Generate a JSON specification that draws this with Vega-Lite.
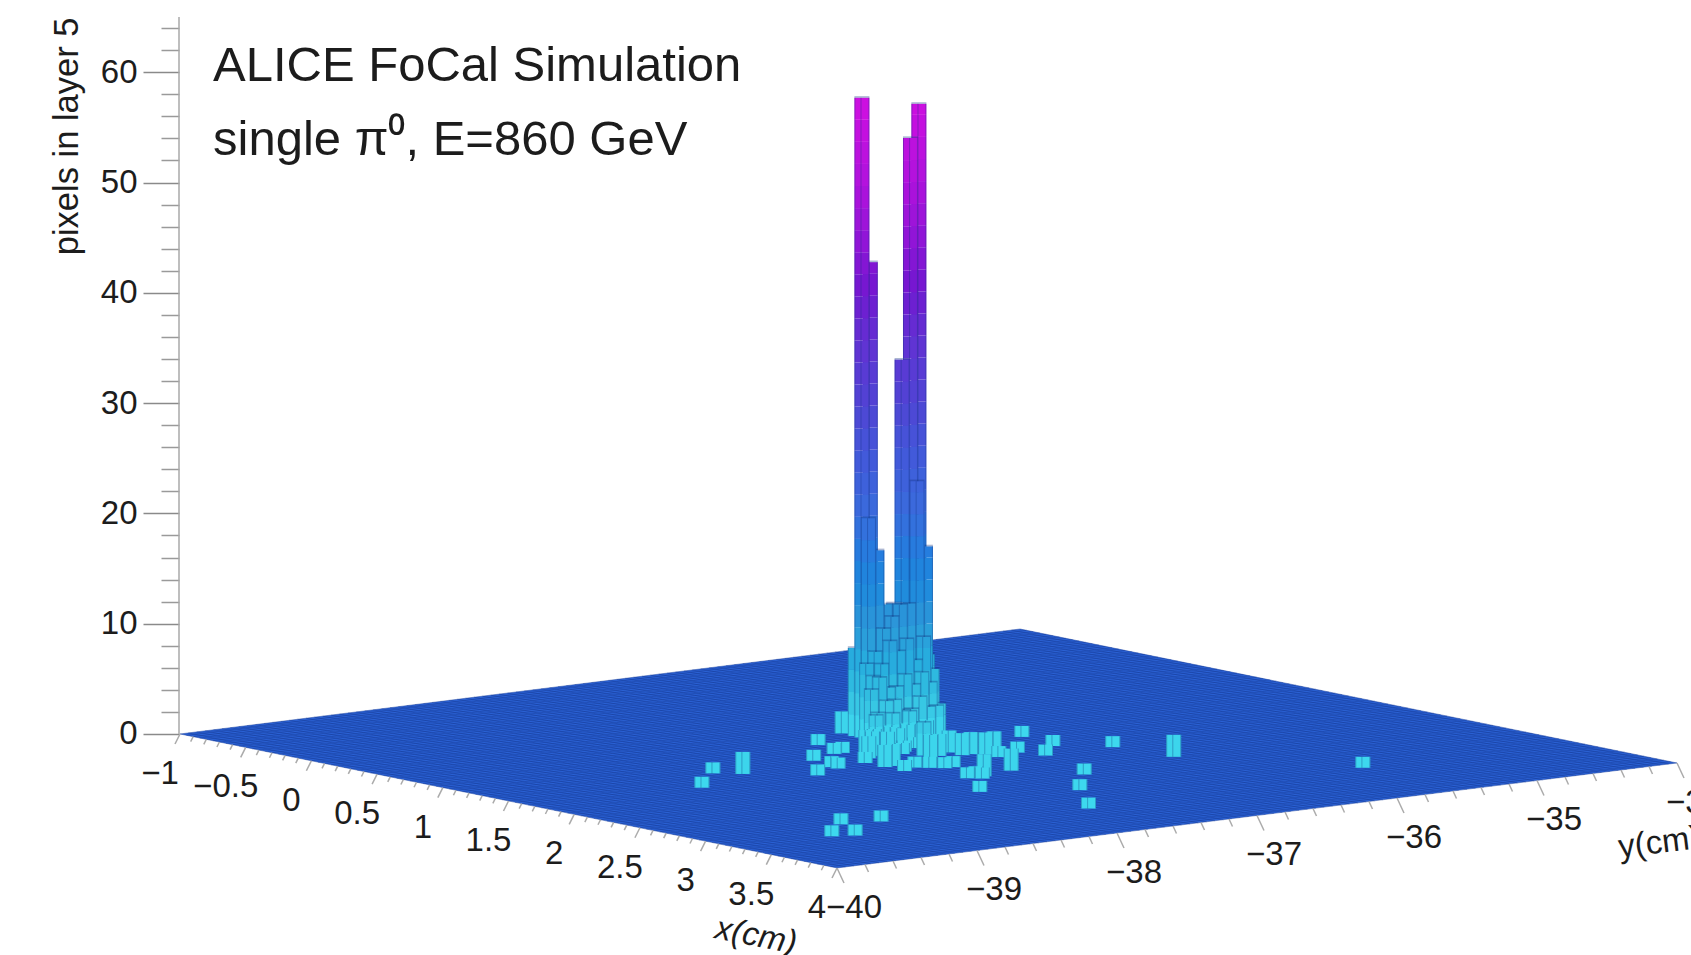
{"$schema":"https://vega.github.io/schema/vega-lite/v6.json","width":1512,"height":955,"autosize":"none","padding":{"left":179,"top":0,"right":0,"bottom":0},"background":"white","config":{"view":{"stroke":null},"text":{"font":"Liberation Sans","color":"#1c1c1c"}},
"datasets":{
"grid":[0,1,2,3,4,5,6,7,8,9,10,11,12,13,14,15,16,17,18,19,20,21,22,23,24,25,26,27,28,29,30,31,32,33,34,35,36,37,38,39,40,41,42,43,44,45,46,47,48,49,50,51,52,53,54,55,56,57,58,59,60,61,62,63,64,65,66,67,68,69,70,71,72,73,74,75,76,77,78,79,80,81,82,83,84,85,86,87,88,89,90,91,92,93,94,95,96,97,98,99,100],
"xticks":[-1,-0.9,-0.8,-0.7,-0.6,-0.5,-0.4,-0.3,-0.2,-0.1,0,0.1,0.2,0.3,0.4,0.5,0.6,0.7,0.8,0.9,1,1.1,1.2,1.3,1.4,1.5,1.6,1.7,1.8,1.9,2,2.1,2.2,2.3,2.4,2.5,2.6,2.7,2.8,2.9,3,3.1,3.2,3.3,3.4,3.5,3.6,3.7,3.8,3.9,4],
"yticks":[-40,-39.8,-39.6,-39.4,-39.2,-39,-38.8,-38.6,-38.4,-38.2,-38,-37.8,-37.6,-37.4,-37.2,-37,-36.8,-36.6,-36.4,-36.2,-36,-35.8,-35.6,-35.4,-35.2,-35,-34.8,-34.6,-34.4,-34.2,-34],
"towers":[
{"ix":40,"iy":50,"n":43},{"ix":40,"iy":49,"n":58},{"ix":39,"iy":49,"n":8},{"ix":41,"iy":55,"n":57},{"ix":41,"iy":56,"n":7},{"ix":41,"iy":54,"n":54},{"ix":41,"iy":53,"n":34},{"ix":41,"iy":52,"n":12},{"ix":41,"iy":51,"n":12},{"ix":41,"iy":50,"n":17},{"ix":41,"iy":49,"n":20},
{"ix":42,"iy":55,"n":17},{"ix":42,"iy":54,"n":23},{"ix":42,"iy":53,"n":12},{"ix":42,"iy":52,"n":12},{"ix":42,"iy":49,"n":8},{"ix":42,"iy":48,"n":7},{"ix":42,"iy":50,"n":10},{"ix":42,"iy":51,"n":11},
{"ix":43,"iy":48,"n":6},{"ix":43,"iy":49,"n":7},{"ix":43,"iy":50,"n":9},{"ix":43,"iy":51,"n":8},{"ix":43,"iy":52,"n":9},{"ix":43,"iy":53,"n":7},{"ix":43,"iy":54,"n":9},{"ix":43,"iy":55,"n":6},
{"ix":44,"iy":47,"n":5},{"ix":44,"iy":48,"n":6},{"ix":44,"iy":49,"n":5},{"ix":44,"iy":50,"n":5},{"ix":44,"iy":51,"n":6},{"ix":44,"iy":52,"n":5},{"ix":44,"iy":53,"n":6},{"ix":44,"iy":54,"n":5},{"ix":44,"iy":55,"n":3},
{"ix":45,"iy":47,"n":3},{"ix":45,"iy":48,"n":4},{"ix":45,"iy":49,"n":4},{"ix":45,"iy":50,"n":3},{"ix":45,"iy":51,"n":3},{"ix":45,"iy":52,"n":4},{"ix":45,"iy":53,"n":3},{"ix":45,"iy":54,"n":3},
{"ix":46,"iy":46,"n":3},{"ix":46,"iy":47,"n":2},{"ix":46,"iy":48,"n":3},{"ix":46,"iy":49,"n":2},{"ix":46,"iy":50,"n":3},{"ix":46,"iy":51,"n":2},{"ix":46,"iy":52,"n":2},
{"ix":47,"iy":44,"n":2},{"ix":47,"iy":45,"n":2},{"ix":47,"iy":47,"n":2},{"ix":47,"iy":49,"n":2},{"ix":47,"iy":50,"n":2},
{"ix":48,"iy":44,"n":2},{"ix":48,"iy":46,"n":1},{"ix":48,"iy":47,"n":2},{"ix":48,"iy":49,"n":1},{"ix":49,"iy":43,"n":1},{"ix":49,"iy":45,"n":2},{"ix":49,"iy":47,"n":1},{"ix":50,"iy":44,"n":1},{"ix":50,"iy":46,"n":1},{"ix":50,"iy":42,"n":2},
{"ix":37,"iy":49,"n":2},{"ix":41,"iy":43,"n":1},{"ix":46,"iy":41,"n":1},{"ix":46,"iy":42,"n":1},{"ix":48,"iy":37,"n":1},{"ix":52,"iy":36,"n":1},{"ix":53,"iy":36,"n":1},{"ix":55,"iy":32,"n":1},
{"ix":52,"iy":40,"n":1},{"ix":55,"iy":40,"n":2},{"ix":55,"iy":41,"n":2},{"ix":58,"iy":40,"n":1},{"ix":57,"iy":42,"n":1},{"ix":58,"iy":43,"n":1},{"ix":59,"iy":44,"n":1},{"ix":59,"iy":45,"n":1},{"ix":65,"iy":42,"n":1},{"ix":65,"iy":43,"n":1},{"ix":66,"iy":43,"n":1},{"ix":72,"iy":38,"n":1},{"ix":65,"iy":44,"n":2},{"ix":64,"iy":48,"n":2},{"ix":57,"iy":52,"n":1},{"ix":49,"iy":61,"n":1},{"ix":56,"iy":55,"n":1},
{"ix":52,"iy":50,"n":2},{"ix":54,"iy":50,"n":2},{"ix":54,"iy":51,"n":2},{"ix":55,"iy":52,"n":2},{"ix":55,"iy":53,"n":2},{"ix":52,"iy":47,"n":3},{"ix":53,"iy":47,"n":2},{"ix":53,"iy":48,"n":2},
{"ix":83,"iy":75,"n":1},{"ix":67,"iy":65,"n":2},{"ix":59,"iy":64,"n":1},{"ix":55,"iy":60,"n":1},{"ix":59,"iy":56,"n":1},{"ix":70,"iy":52,"n":1},{"ix":77,"iy":46,"n":1},{"ix":86,"iy":40,"n":1},{"ix":54,"iy":19,"n":1},{"ix":48,"iy":25,"n":1},{"ix":50,"iy":27,"n":2},{"ix":80,"iy":20,"n":1},{"ix":79,"iy":16,"n":1},{"ix":84,"iy":11,"n":1},{"ix":85,"iy":13,"n":1}
]},
"encoding":{
"x":{"field":"sx","type":"quantitative","scale":{"domain":[-1,1511],"nice":false,"zero":false},"axis":null},
"y":{"field":"zs","type":"quantitative","scale":{"domain":[-20.04,66.55],"nice":false,"zero":false},"axis":null}},
"resolve":{"axis":{"y":"independent"},"scale":{"y":"shared","x":"shared"}},
"layer":[
{"data":{"values":[{"z":0,"z2":65,"at":-1}]},"mark":{"type":"rule","stroke":"#a8a8a8","strokeWidth":1.5},
"encoding":{"x":{"field":"at","type":"quantitative"},"y":{"field":"z","type":"quantitative","scale":{"domain":[-20.04,66.55],"nice":false,"zero":false},"axis":{"orient":"left","values":[0,10,20,30,40,50,60],"domain":false,"grid":false,"tickSize":36,"tickColor":"#8a8a8a","tickWidth":1.5,"labelFontSize":33,"labelFont":"Liberation Sans","labelColor":"#1c1c1c","labelPadding":6,"title":"pixels in layer 5","titleFontSize":34.5,"titleFont":"Liberation Sans","titleFontWeight":"normal","titleColor":"#1c1c1c","titleAngle":270,"titleAlign":"right","titleBaseline":"middle","titleX":-112,"titleY":17}},"y2":{"field":"z2"}}},
{"data":{"values":[{"z":0,"z2":65,"at":-1}]},"mark":{"type":"rule","strokeOpacity":0},
"encoding":{"x":{"field":"at","type":"quantitative"},"y":{"field":"z","type":"quantitative","scale":{"domain":[-20.04,66.55],"nice":false,"zero":false},"axis":{"orient":"left","values":[2,4,6,8,12,14,16,18,22,24,26,28,32,34,36,38,42,44,46,48,52,54,56,58,62,64],"domain":false,"grid":false,"tickSize":18,"tickColor":"#9a9a9a","tickWidth":1.5,"labels":false,"title":null}},"y2":{"field":"z2"}}},
{"data":{"values":[{"x":-1,"y":-40,"xu":-1,"yu":-40},{"x":4,"y":-40,"xu":-1,"yu":-35.31},{"x":4,"y":-38.69,"xu":-1,"yu":-34},{"x":4,"y":-34,"xu":4,"yu":-34}]},
"transform":[{"calculate":"131.4*(datum.x+1)+140*(datum.y+40)","as":"sx"},{"calculate":"-(26.8*(datum.x+1)-17.5*(datum.y+40))/11.03","as":"zs"},{"calculate":"-(26.8*(datum.xu+1)-17.5*(datum.yu+40))/11.03","as":"zs2"}],
"mark":{"type":"area","fill":"#2a60d2","orient":"vertical"},"encoding":{"y2":{"field":"zs2"}}},
{"data":{"name":"grid"},"transform":[{"calculate":"6.57*datum.data","as":"sx"},{"calculate":"-1.34*datum.data/11.03","as":"zs"},{"calculate":"datum.sx+840","as":"sx2"},{"calculate":"datum.zs+105/11.03","as":"zs2"}],
"mark":{"type":"rule","stroke":"#173b9a","strokeWidth":1,"strokeOpacity":0.45},"encoding":{"x2":{"field":"sx2"},"y2":{"field":"zs2"}}},
{"data":{"name":"grid"},"transform":[{"calculate":"8.4*datum.data","as":"sx"},{"calculate":"1.05*datum.data/11.03","as":"zs"},{"calculate":"datum.sx+657","as":"sx2"},{"calculate":"datum.zs-134/11.03","as":"zs2"}],
"mark":{"type":"rule","stroke":"#173b9a","strokeWidth":1,"strokeOpacity":0.45},"encoding":{"x2":{"field":"sx2"},"y2":{"field":"zs2"}}},
{"data":{"name":"xticks"},"transform":[{"calculate":"abs(datum.data*2-round(datum.data*2))<0.001?1:0.5","as":"l"},{"calculate":"131.4*(datum.data+1)","as":"sx"},{"calculate":"-26.8*(datum.data+1)/11.03","as":"zs"},{"calculate":"datum.sx-5*datum.l","as":"sx2"},{"calculate":"datum.zs-10*datum.l/11.03","as":"zs2"}],
"mark":{"type":"rule","stroke":"#ababab","strokeWidth":1.5},"encoding":{"x2":{"field":"sx2"},"y2":{"field":"zs2"}}},
{"data":{"name":"yticks"},"transform":[{"calculate":"abs(datum.data-round(datum.data))<0.001?1:0.5","as":"l"},{"calculate":"657+140*(datum.data+40)","as":"sx"},{"calculate":"-(134-17.5*(datum.data+40))/11.03","as":"zs"},{"calculate":"datum.sx+7*datum.l","as":"sx2"},{"calculate":"datum.zs-15*datum.l/11.03","as":"zs2"}],
"mark":{"type":"rule","stroke":"#ababab","strokeWidth":1.5},"encoding":{"x2":{"field":"sx2"},"y2":{"field":"zs2"}}},
{"data":{"name":"towers"},"transform":[
{"fold":["0","2","4","6","8","10","12","14","16","18","20","22","24","26","28","30","32","34","36","38","40","42","44","46","48","50","52","54","56","58","top","e0","e1","e2"]},
{"calculate":"indexof(['top','e0','e1','e2'],datum.key)>=0?-1:toNumber(datum.key)","as":"b"},
{"filter":"datum.b<0?(datum.key!='top'||datum.n>=3):datum.b<datum.n"},
{"calculate":"6.57*datum.ix+8.4*datum.iy","as":"L"},
{"calculate":"(1.34*(datum.ix+1)-1.05*datum.iy)/11.03","as":"off"},
{"calculate":"datum.L+(datum.key=='e1'?6.1:datum.key=='e2'?14:0)","as":"sx"},
{"calculate":"datum.key=='e0'?datum.L+1:datum.key=='e1'?datum.L+7.1:datum.L+15","as":"sx2"},
{"calculate":"datum.b>=0?datum.b:datum.key=='top'?datum.n:0","as":"z0"},
{"calculate":"datum.b>=0?min(datum.b+2,datum.n):datum.key=='top'?datum.n+0.15:datum.n","as":"z1"},
{"calculate":"datum.z0-datum.off","as":"zs"},{"calculate":"datum.z1-datum.off","as":"zs2"},
{"calculate":"datum.b>=0?(datum.z0+datum.z1)/2:-10","as":"c"},
{"calculate":"(datum.ix-datum.iy)*10+(datum.b>=0?0:1)","as":"ord"}],
"mark":{"type":"rect"},
"encoding":{"x2":{"field":"sx2"},"y2":{"field":"zs2"},
"color":{"field":"c","type":"quantitative","legend":null,"scale":{"domain":[-10,-5,0,4,10,20,30,40,50,58],"range":["#12307f","#12307f","#3fdcf0","#35c0e0","#2f98d8","#3a6cdc","#5044d4","#7018d0","#b012dc","#d010e0"]}},
"opacity":{"condition":{"test":"datum.c<0","value":0.35},"value":1},
"order":{"field":"ord","type":"quantitative"}}},
{"data":{"values":[{"x":-1,"t":"−1"},{"x":-0.5,"t":"−0.5"},{"x":0,"t":"0"},{"x":0.5,"t":"0.5"},{"x":1,"t":"1"},{"x":1.5,"t":"1.5"},{"x":2,"t":"2"},{"x":2.5,"t":"2.5"},{"x":3,"t":"3"},{"x":3.5,"t":"3.5"},{"x":4,"t":"4"}]},
"transform":[{"calculate":"131.4*(datum.x+1)","as":"sx"},{"calculate":"-26.8*(datum.x+1)/11.03","as":"zs"}],
"mark":{"type":"text","fontSize":33,"dx":-20,"dy":40,"align":"center","baseline":"middle"},"encoding":{"text":{"field":"t"}}},
{"data":{"values":[{"y":-40,"t":"−40"},{"y":-39,"t":"−39"},{"y":-38,"t":"−38"},{"y":-37,"t":"−37"},{"y":-36,"t":"−36"},{"y":-35,"t":"−35"},{"y":-34,"t":"−34"}]},
"transform":[{"calculate":"657+140*(datum.y+40)","as":"sx"},{"calculate":"-(134-17.5*(datum.y+40))/11.03","as":"zs"}],
"mark":{"type":"text","fontSize":33,"dx":17,"dy":40,"align":"center","baseline":"middle"},"encoding":{"text":{"field":"t"}}},
{"data":{"values":[{"x":3.4,"t":"x(cm)"}]},"transform":[{"calculate":"131.4*(datum.x+1)","as":"sx"},{"calculate":"-26.8*(datum.x+1)/11.03","as":"zs"}],
"mark":{"type":"text","fontSize":33,"dx":14,"dy":83,"angle":11,"align":"center","baseline":"middle","fontStyle":"italic"},"encoding":{"text":{"field":"t"}}},
{"data":{"values":[{"y":-34.4,"t":"y(cm)"}]},"transform":[{"calculate":"657+140*(datum.y+40)","as":"sx"},{"calculate":"-(134-17.5*(datum.y+40))/11.03","as":"zs"}],
"mark":{"type":"text","fontSize":33,"dx":-12,"dy":77,"angle":353,"align":"left","baseline":"middle"},"encoding":{"text":{"field":"t"}}},
{"data":{"values":[{"sx":33,"zs":59.2,"t":"ALICE FoCal Simulation"},{"sx":33,"zs":52.5,"t":"single π⁰, E=860 GeV"}]},
"mark":{"type":"text","fontSize":49,"align":"left","baseline":"alphabetic"},"encoding":{"text":{"field":"t"}}}
]}
